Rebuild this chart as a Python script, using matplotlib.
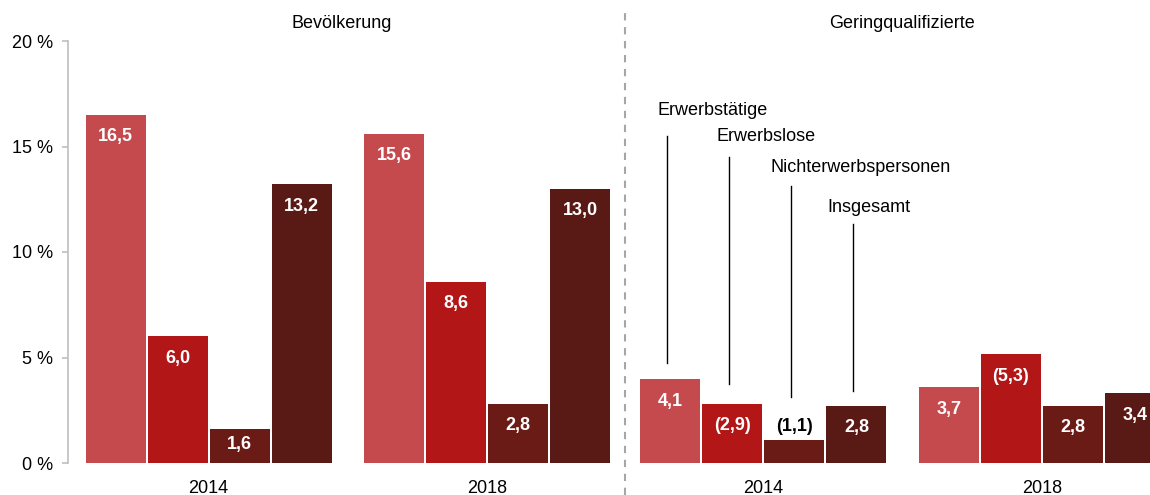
import matplotlib
matplotlib.use("Agg")
import matplotlib.pyplot as plt
from matplotlib.lines import Line2D
import numpy as np

plt.rcParams["font.family"] = ["Liberation Sans", "DejaVu Sans"]

# --- data ---
years = ["2014", "2018"]
series = ["Erwerbstätige", "Erwerbslose", "Nichterwerbspersonen", "Insgesamt"]
bev_2014 = [16.5, 6.0, 1.6, 13.2]
bev_2018 = [15.6, 8.6, 2.8, 13.0]
geq_2014 = [4.1, 2.9, 1.1, 2.8]
geq_2018 = [3.7, 5.3, 2.8, 3.4]
# values shown in parentheses (limited reliability)
geq_paren_2014 = [False, True, True, False]
geq_paren_2018 = [False, True, False, False]
yticks = [0, 5, 10, 15, 20]

colors = ["#C54A4E", "#B31617", "#6B1B16", "#591A16"]

W, H = 1150, 495
fig = plt.figure(figsize=(W / 100, H / 100), dpi=100)

ax_l = fig.add_axes([68 / W, 32 / H, (625 - 68) / W, 422 / H])
ax_r = fig.add_axes([625 / W, 32 / H, (W - 625) / W, 422 / H])

group_x = np.arange(len(years))
step = 62 / 278.5
bar_w = 60 / 278.5
offsets = (np.arange(len(series)) - 1.5) * step


def fmt(v, paren=False):
    s = f"{v:.1f}".replace(".", ",")
    return f"({s})" if paren else s


def draw_panel(ax, data, parens, ytop):
    ppu = 422 / ytop  # pixels per data unit
    for gi, vals in enumerate(data):
        for si, v in enumerate(vals):
            x = group_x[gi] + offsets[si]
            ax.bar(x, v, width=bar_w, color=colors[si], linewidth=0)
            txt = fmt(v, parens[gi][si])
            hpx = v * ppu
            if hpx < 28:
                ax.text(x, v + 5 / ppu, txt, ha="center", va="bottom",
                        fontsize=13, fontweight="bold", color="black")
            elif hpx < 50:
                ax.text(x, v / 2 + 2 / ppu, txt, ha="center", va="center",
                        fontsize=13, fontweight="bold", color="white")
            else:
                ax.text(x, v - 22 / ppu, txt, ha="center", va="center",
                        fontsize=13, fontweight="bold", color="white")
    ax.set_ylim(0, ytop)
    ax.set_xticks(group_x)
    ax.set_xticklabels(years, fontsize=13)
    ax.tick_params(axis="x", length=0, pad=12)
    for sp in ["top", "right", "bottom"]:
        ax.spines[sp].set_visible(False)


draw_panel(ax_l, [bev_2014, bev_2018], [[False] * 4, [False] * 4], 20)
ax_l.set_xlim(-0.5045, 1.4955)
ax_l.set_yticks(yticks)
ax_l.set_yticklabels([f"{t} %" for t in yticks], fontsize=13)
ax_l.spines["left"].set_color("#BFBFBF")
ax_l.spines["left"].set_linewidth(1.2)
ax_l.tick_params(axis="y", length=4, width=1.2, color="#BFBFBF", pad=7)

draw_panel(ax_r, [geq_2014, geq_2018], [geq_paren_2014, geq_paren_2018], 20.6)
ax_r.set_xlim(-0.497, 1.388)
ax_r.spines["left"].set_visible(False)
ax_r.set_yticks([])

# series legend labels with leader lines (right panel, 2014 group)
label_x = [-0.382, -0.168, 0.027, 0.230]
label_y = [17.23, 15.93, 14.41, 12.45]
line_top = [15.96, 14.93, 13.52, 11.66]
line_bot = [4.88, 3.86, 3.22, 3.51]
for si, name in enumerate(series):
    x = group_x[0] + offsets[si] - 0.012
    ax_r.plot([x, x], [line_bot[si], line_top[si]], color="black", lw=1)
    ax_r.text(label_x[si], label_y[si], name, ha="left", va="center", fontsize=13)

# panel titles
fig.text(341.5 / W, 1 - 23 / H, "Bevölkerung", ha="center", va="center", fontsize=13)
fig.text(901.5 / W, 1 - 23 / H, "Geringqualifizierte", ha="center", va="center", fontsize=13)

# dashed divider
fig.add_artist(Line2D([625 / W, 625 / W], [0, 1 - 12 / H], transform=fig.transFigure,
                      color="#A6A6A6", lw=1.5, linestyle=(0, (3.5, 3.2))))

fig.savefig("out.png", dpi=100)
